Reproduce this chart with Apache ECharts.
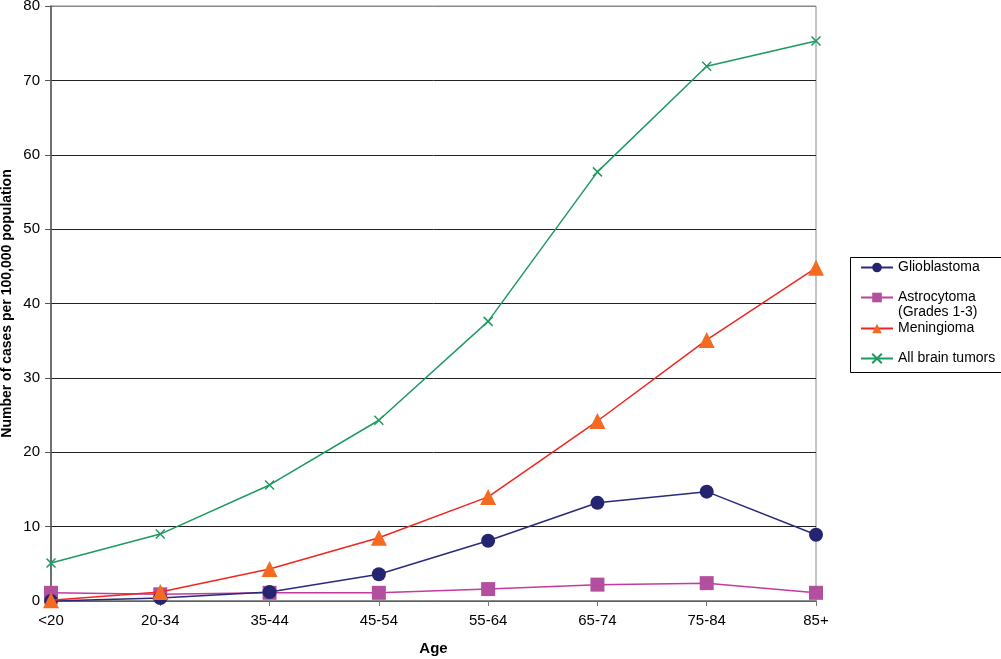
<!DOCTYPE html>
<html><head><meta charset="utf-8">
<script src="https://cdn.jsdelivr.net/npm/echarts@6/dist/echarts.min.js"></script>
<style>html,body{margin:0;padding:0;background:#fff}#c{width:1001px;height:659px}</style>
</head><body><div id="c"></div>
<script>
var categories = ['<20','20-34','35-44','45-54','55-64','65-74','75-84','85+'];
var glioblastoma = [0.0, 0.4, 1.2, 3.6, 8.1, 13.2, 14.7, 8.9];
var astrocytoma = [1.1, 0.9, 1.1, 1.1, 1.6, 2.2, 2.4, 1.1];
var meningioma = [0.1, 1.2, 4.3, 8.5, 14.0, 24.2, 35.1, 44.8];
var allTumors = [5.1, 9.0, 15.6, 24.3, 37.6, 57.7, 71.9, 75.3];
var yTicks = [0,10,20,30,40,50,60,70,80];

var FONT = 'Liberation Sans, Arial, sans-serif';
var crossPath = 'path://M0,0L10,10M10,0L0,10';
var chart = echarts.init(document.getElementById('c'), null, {renderer:'canvas'});

function legendFor(name, top, fmt) {
  return {
    data: [name], orient: 'vertical', left: 860, top: top, padding: 0,
    itemWidth: 32, itemHeight: 12, itemGap: 0,
    textStyle: {fontFamily: FONT, fontSize: 14, color: '#000', lineHeight: 15},
    formatter: fmt || undefined,
    selectedMode: false
  };
}

chart.setOption({
  animation: false,
  backgroundColor: '#fff',
  grid: {left: 51, right: 185, top: 6, bottom: 58, containLabel: false, outerBoundsMode: 'none',
         show: true, borderColor: '#888', borderWidth: 1},
  graphic: [{type: 'rect', shape: {x: 850.5, y: 257.5, width: 170, height: 115}, style: {fill: 'none', stroke: '#000', lineWidth: 1}, z: 0}],
  legend: [
    legendFor('Glioblastoma', 260),
    legendFor('Astrocytoma', 275, function(){ return '\nAstrocytoma\n(Grades 1-3)'; }),
    legendFor('Meningioma', 321),
    legendFor('All brain tumors', 351)
  ],
  xAxis: {
    type: 'category', data: categories, boundaryGap: false,
    name: 'Age', nameLocation: 'middle', nameGap: 40, nameMoveOverlap: false,
    nameTextStyle: {fontFamily: FONT, fontSize: 15, fontWeight: 'bold', color: '#000'},
    axisLine: {lineStyle: {color: '#777', width: 1.5}},
    axisTick: {show: true, length: 5, lineStyle: {color: '#777'}},
    axisLabel: {fontFamily: FONT, fontSize: 15, color: '#000', margin: 12}
  },
  yAxis: {
    type: 'value', min: yTicks[0], max: yTicks[yTicks.length-1], interval: 10,
    name: 'Number of cases per 100,000 population', nameLocation: 'middle', nameGap: 37, nameMoveOverlap: false,
    nameTextStyle: {fontFamily: FONT, fontSize: 14, fontWeight: 'bold', color: '#000'},
    axisLine: {show: true, lineStyle: {color: '#555', width: 1.5}},
    axisTick: {show: true, length: 6, lineStyle: {color: '#555'}},
    axisLabel: {fontFamily: FONT, fontSize: 15, color: '#000', margin: 11},
    splitLine: {show: true, lineStyle: {color: ['#222','#222','#222','#222','#222','#222','#222','#222','#888'], width: 1}}
  },
  series: [
    {name: 'Glioblastoma', type: 'line', data: glioblastoma, symbol: 'circle', symbolSize: 14,
     lineStyle: {color: '#2a2a7a', width: 1.5}, itemStyle: {color: '#242470'}, z: 4},
    {name: 'Astrocytoma', type: 'line', data: astrocytoma, symbol: 'rect', symbolSize: 14,
     lineStyle: {color: '#c33aa0', width: 1.5}, itemStyle: {color: '#b24f9e'}, z: 3},
    {name: 'Meningioma', type: 'line', data: meningioma, symbol: 'triangle', symbolSize: 16,
     lineStyle: {color: '#f0261e', width: 1.5}, itemStyle: {color: '#f46a20'}, z: 5},
    {name: 'All brain tumors', type: 'line', data: allTumors, symbol: crossPath, symbolSize: 9,
     lineStyle: {color: '#1d9a60', width: 1.5}, itemStyle: {color: 'none', borderColor: '#1d9a60', borderWidth: 1.5}, z: 6}
  ]
});
</script></body></html>
